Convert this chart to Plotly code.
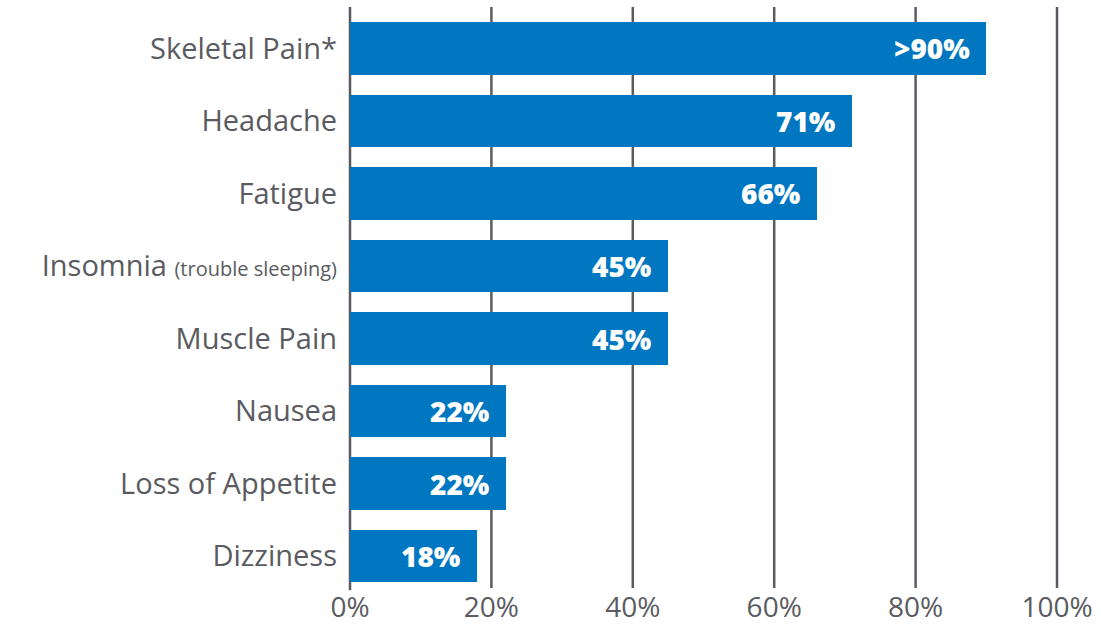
import plotly.graph_objects as go

categories = ["Skeletal Pain*", "Headache", "Fatigue",
              "Insomnia <span style=\"font-size:20px\">(trouble sleeping)</span>",
              "Muscle Pain", "Nausea", "Loss of Appetite", "Dizziness"]
values = [90, 71, 66, 45, 45, 22, 22, 18]
value_labels = [">90%", "71%", "66%", "45%", "45%", "22%", "22%", "18%"]
tick_vals = [0, 20, 40, 60, 80, 100]
tick_text = ["0%", "20%", "40%", "60%", "80%", "100%"]

BLUE = "#0077C0"
GRAY = "#5A5B60"
FONT = "Open Sans"

fig = go.Figure()

# vertical grid lines (drawn under bars)
for tv in tick_vals:
    fig.add_shape(type="line", x0=tv, x1=tv, xref="x", yref="paper",
                  y0=-0.004 if tv == 0 else 0, y1=1, layer="below",
                  line=dict(color=GRAY, width=2.5))

fig.add_trace(go.Bar(
    y=list(range(len(categories))), x=values, orientation="h",
    marker=dict(color=BLUE, line=dict(width=0)), width=0.73,
    hoverinfo="skip",
))

for i, (v, lab) in enumerate(zip(values, value_labels)):
    fig.add_annotation(x=v, y=i, text=lab, xanchor="right", yanchor="middle",
                       xshift=-14, showarrow=False,
                       font=dict(family=FONT, size=28, color="white", weight=800))

fig.update_layout(
    width=1101, height=628,
    margin=dict(l=348, r=42, t=7, b=40, autoexpand=False),
    paper_bgcolor="white", plot_bgcolor="white",
    showlegend=False, bargap=0,
    font=dict(family=FONT, color=GRAY),
)
fig.update_xaxes(
    range=[-0.283, 100.283], tickvals=tick_vals, ticktext=tick_text,
    showgrid=False, zeroline=False, showline=False, automargin=False,
    tickfont=dict(family=FONT, size=28, color=GRAY, weight=400),
    ticks="", fixedrange=True,
)
fig.update_yaxes(
    range=[7.441, -0.572], tickvals=list(range(len(categories))), ticktext=categories,
    showgrid=False, zeroline=False, showline=False, automargin=False,
    tickfont=dict(family=FONT, size=29, color=GRAY, weight=400),
    ticks="", ticklabelstandoff=10, fixedrange=True,
)

fig.write_html("out.html", config={"displayModeBar": False},
               post_script="document.body.style.margin='0';")
